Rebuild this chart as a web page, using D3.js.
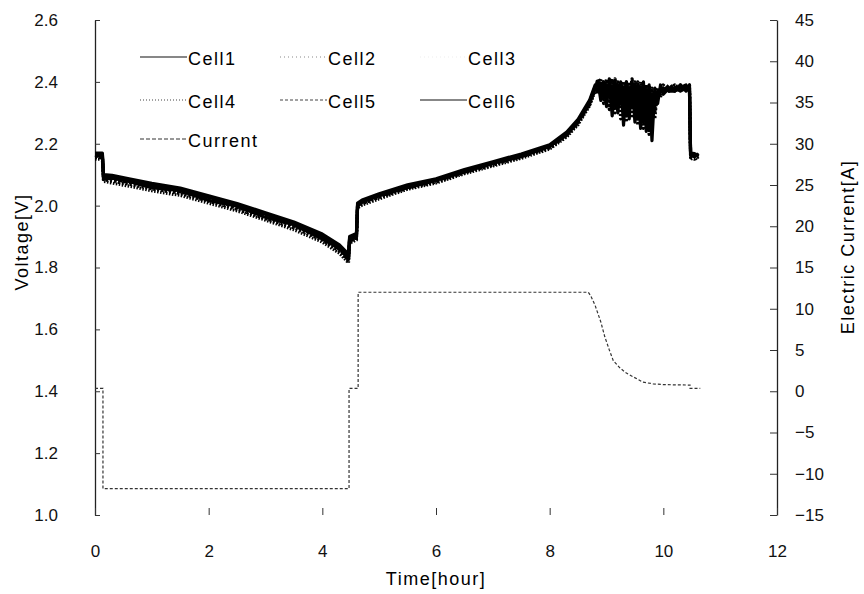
<!DOCTYPE html>
<html>
<head>
<meta charset="utf-8">
<script src="https://cdn.jsdelivr.net/npm/d3@7"></script>
<style>
  body { margin: 0; background: #fff; }
  svg { font-family: "Liberation Sans", Arial, sans-serif; }
</style>
</head>
<body>
<script>
const cellHours = [
  0.0, 0.13, 0.15, 0.3, 0.6, 1.0, 1.5, 2.0, 2.5, 3.0, 3.5, 4.0, 4.3, 4.46, 4.48, 4.6, 4.62, 4.7, 5.0, 5.5, 6.0, 6.5, 7.0, 7.5, 8.0, 8.3, 8.5, 8.7, 8.8,
  8.85, 8.9, 8.95, 9.0, 9.05, 9.1, 9.15, 9.2, 9.25, 9.3, 9.35, 9.4, 9.45, 9.5, 9.55, 9.6, 9.65, 9.7, 9.75, 9.8, 9.85, 9.9, 9.95, 10.0, 10.1, 10.2, 10.3, 10.4, 10.46,
  10.48, 10.55, 10.62
];
const cell1 = [
  2.165, 2.165, 2.095, 2.092, 2.08, 2.066, 2.05, 2.027, 2.0, 1.972, 1.94, 1.9, 1.866, 1.835, 1.895, 1.905, 2.004, 2.014, 2.034, 2.063, 2.084, 2.113, 2.138, 2.163, 2.193, 2.234, 2.274, 2.334, 2.385,
  2.40, 2.34, 2.40, 2.32, 2.41, 2.29, 2.40, 2.30, 2.40, 2.26, 2.40, 2.28, 2.40, 2.27, 2.39, 2.25, 2.40, 2.24, 2.39, 2.21, 2.38, 2.33, 2.39, 2.36, 2.38, 2.37, 2.39, 2.37, 2.39,
  2.165, 2.16, 2.165
];
const cell2 = [
  2.155, 2.155, 2.084, 2.079, 2.069, 2.054, 2.039, 2.014, 1.988, 1.958, 1.928, 1.888, 1.852, 1.822, 1.884, 1.894, 1.995, 2.006, 2.026, 2.056, 2.076, 2.106, 2.131, 2.157, 2.186, 2.226, 2.266, 2.325, 2.375,
  2.36, 2.40, 2.33, 2.41, 2.31, 2.40, 2.30, 2.40, 2.28, 2.40, 2.27, 2.40, 2.29, 2.40, 2.26, 2.40, 2.25, 2.39, 2.23, 2.38, 2.28, 2.38, 2.35, 2.39, 2.37, 2.39, 2.38, 2.39, 2.38,
  2.155, 2.15, 2.158
];
const cell3 = [
  2.17, 2.17, 2.1, 2.098, 2.087, 2.072, 2.057, 2.032, 2.007, 1.977, 1.947, 1.908, 1.873, 1.843, 1.9, 1.91, 2.008, 2.018, 2.038, 2.067, 2.087, 2.117, 2.142, 2.167, 2.197, 2.238, 2.279, 2.34, 2.39,
  2.39, 2.37, 2.38, 2.35, 2.39, 2.33, 2.38, 2.34, 2.39, 2.31, 2.38, 2.33, 2.39, 2.30, 2.38, 2.29, 2.38, 2.28, 2.37, 2.26, 2.36, 2.35, 2.37, 2.37, 2.38, 2.38, 2.37, 2.38, 2.37,
  2.17, 2.168, 2.162
];
const cell4 = [
  2.15, 2.15, 2.079, 2.073, 2.063, 2.048, 2.033, 2.008, 1.983, 1.953, 1.922, 1.882, 1.846, 1.815, 1.879, 1.889, 1.992, 2.002, 2.022, 2.053, 2.073, 2.103, 2.128, 2.153, 2.183, 2.222, 2.262, 2.322, 2.37,
  2.38, 2.41, 2.36, 2.40, 2.34, 2.41, 2.33, 2.40, 2.32, 2.40, 2.30, 2.39, 2.31, 2.40, 2.29, 2.39, 2.28, 2.38, 2.27, 2.37, 2.30, 2.37, 2.36, 2.38, 2.38, 2.39, 2.38, 2.38, 2.39,
  2.15, 2.156, 2.15
];
const cell5 = [
  2.16, 2.16, 2.09, 2.086, 2.074, 2.061, 2.044, 2.021, 1.994, 1.966, 1.934, 1.896, 1.859, 1.829, 1.89, 1.9, 2.0, 2.01, 2.03, 2.06, 2.08, 2.11, 2.135, 2.16, 2.19, 2.23, 2.27, 2.33, 2.38,
  2.41, 2.38, 2.40, 2.37, 2.40, 2.35, 2.41, 2.36, 2.40, 2.34, 2.40, 2.35, 2.41, 2.33, 2.40, 2.32, 2.39, 2.31, 2.39, 2.29, 2.37, 2.36, 2.38, 2.37, 2.39, 2.38, 2.39, 2.38, 2.38,
  2.16, 2.165, 2.16
];
const cell6 = [
  2.163, 2.158, 2.087, 2.089, 2.078, 2.058, 2.048, 2.017, 1.998, 1.962, 1.938, 1.892, 1.862, 1.826, 1.887, 1.898, 1.998, 2.012, 2.032, 2.058, 2.082, 2.108, 2.137, 2.158, 2.192, 2.228, 2.272, 2.328, 2.382,
  2.37, 2.39, 2.35, 2.39, 2.36, 2.38, 2.32, 2.39, 2.33, 2.38, 2.29, 2.38, 2.32, 2.39, 2.28, 2.38, 2.27, 2.37, 2.25, 2.36, 2.32, 2.36, 2.37, 2.38, 2.37, 2.37, 2.38, 2.39, 2.37,
  2.162, 2.158, 2.168
];
const currentHours = [0.0, 0.14, 0.14, 4.47, 4.47, 4.63, 4.63, 8.68, 8.72, 8.8, 8.9, 8.97, 9.05, 9.12, 9.24, 9.35, 9.47, 9.64, 9.82, 10.0, 10.47, 10.47, 10.65];
const currentAmps = [0.35, 0.35, -11.8, -11.8, 0.35, 0.35, 12, 12, 11.6, 10.4, 8.4, 6.6, 5.0, 3.7, 2.8, 2.2, 1.75, 1.1, 0.9, 0.8, 0.75, 0.35, 0.35];

const hourTicks = [0, 2, 4, 6, 8, 10, 12];
const voltTicks = [1.0, 1.2, 1.4, 1.6, 1.8, 2.0, 2.2, 2.4, 2.6];
const ampTicks = [-15, -10, -5, 0, 5, 10, 15, 20, 25, 30, 35, 40, 45];

const cellNames = ["Cell1", "Cell2", "Cell3", "Cell4", "Cell5", "Cell6"];
const cellSeries = [cell1, cell2, cell3, cell4, cell5, cell6];
// line look per series: data dash, legend dash, legend colour
const dashData = [null, "2,2", null, "1.5,1.5", "3,2", null];
const dashLegend = [null, "1,3", "1,3", "1,2", "3,2", null];
const legendColor = ["#111", "#888", "#eee", "#444", "#444", "#111"];

const svg = d3.select("body").append("svg")
  .attr("width", 864)
  .attr("height", 594);

const x = d3.scaleLinear().domain([0, 12]).range([95, 777]);
const yV = d3.scaleLinear().domain([1.0, 2.6]).range([515, 20]);
const yI = d3.scaleLinear().domain([-15, 45]).range([515, 20]);

// axes
const leftAxis = svg.append("g")
  .attr("transform", "translate(95,0)")
  .call(d3.axisLeft(yV).tickValues(voltTicks).tickFormat(d3.format(".1f"))
    .tickSizeInner(-5).tickSizeOuter(0).tickPadding(37));
const rightAxis = svg.append("g")
  .attr("transform", "translate(777,0)")
  .call(d3.axisRight(yI).tickValues(ampTicks).tickFormat(d3.format("d"))
    .tickSizeInner(-7).tickSizeOuter(0).tickPadding(18));
const bottomAxis = svg.append("g")
  .attr("transform", "translate(0,515)")
  .call(d3.axisBottom(x).tickValues(hourTicks).tickFormat(d3.format("d"))
    .tickSizeInner(-7).tickSizeOuter(0).tickPadding(30));
bottomAxis.select(".domain").remove();

[leftAxis, rightAxis, bottomAxis].forEach(g => {
  g.selectAll(".domain").attr("stroke", "#222").attr("stroke-width", 1.3);
  g.selectAll(".tick line").attr("stroke", "#333");
  g.selectAll("text").attr("font-size", 17).attr("fill", "#111")
    .attr("font-family", "Liberation Sans, Arial, sans-serif");
});

// axis titles
svg.append("text")
  .attr("transform", "translate(28,242) rotate(-90)")
  .attr("text-anchor", "middle")
  .attr("font-size", 18)
  .attr("letter-spacing", 1.5)
  .text("Voltage[V]");
svg.append("text")
  .attr("transform", "translate(854,247) rotate(-90)")
  .attr("text-anchor", "middle")
  .attr("font-size", 18)
  .attr("letter-spacing", 1.5)
  .text("Electric Current[A]");
svg.append("text")
  .attr("x", 436)
  .attr("y", 585)
  .attr("text-anchor", "middle")
  .attr("font-size", 18)
  .attr("letter-spacing", 1.5)
  .text("Time[hour]");

// current trace
const currentLine = d3.line()
  .x((d, i) => x(currentHours[i]))
  .y(d => yI(d));
svg.append("path")
  .datum(currentAmps)
  .attr("fill", "none")
  .attr("stroke", "#333")
  .attr("stroke-width", 1.2)
  .attr("stroke-dasharray", "3,2")
  .attr("d", currentLine);

// cell voltage traces
const cellLine = d3.line()
  .x((d, i) => x(cellHours[i]))
  .y(d => yV(d));
cellSeries.forEach((vals, k) => {
  svg.append("path")
    .datum(vals)
    .attr("fill", "none")
    .attr("stroke", "#000")
    .attr("stroke-width", 3.2)
    .attr("stroke-linejoin", "round")
    .attr("stroke-dasharray", dashData[k])
    .attr("d", cellLine);
});

// legend
const legend = svg.append("g").attr("font-size", 18).attr("letter-spacing", 1.5);
const legendCols = [140, 280, 420];
const legendRows = [57, 100, 139];
const legendNames = cellNames.concat(["Current"]);
legendNames.forEach((name, i) => {
  const lx = legendCols[i % 3];
  const ly = legendRows[Math.floor(i / 3)];
  legend.append("line")
    .attr("x1", lx).attr("x2", lx + 47)
    .attr("y1", ly).attr("y2", ly)
    .attr("stroke", i < 6 ? legendColor[i] : "#333")
    .attr("stroke-width", 1.2)
    .attr("stroke-dasharray", i < 6 ? dashLegend[i] : "4,2");
  legend.append("text")
    .attr("x", lx + 48)
    .attr("y", ly + 8)
    .text(name);
});
</script>
</body>
</html>
